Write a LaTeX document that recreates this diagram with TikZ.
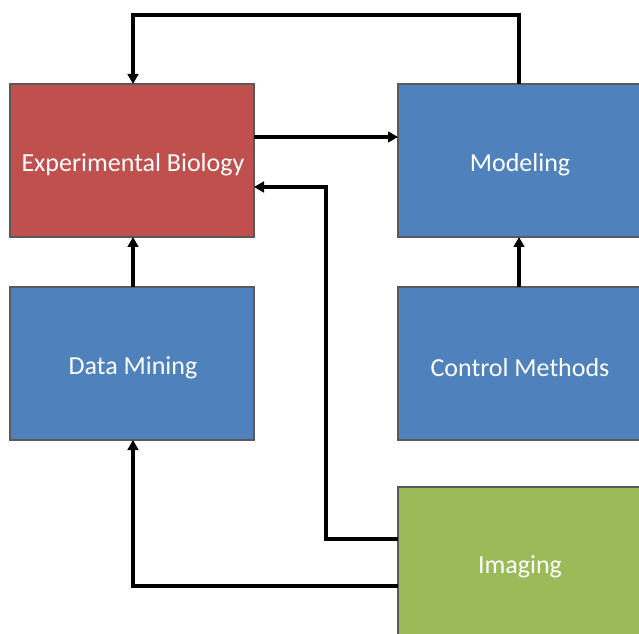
\documentclass[tikz,border=0pt]{standalone}
\usepackage{fontspec}
\setmainfont{Carlito}
\usetikzlibrary{arrows.meta}
\definecolor{boxred}{HTML}{C0504D}
\definecolor{boxblue}{HTML}{4F81BD}
\definecolor{boxgreen}{HTML}{9BBB59}
\definecolor{boxedge}{HTML}{595959}
\tikzset{
  blk/.style={draw=boxedge, line width=1.5pt, minimum width=183pt, minimum height=114.75pt,
    inner sep=0pt, outer sep=0pt, text=white, font=\fontsize{19.5}{23}\selectfont},
  lbl/.style={text=white, font=\fontsize{19.5}{23}\selectfont, inner sep=0pt},
  arr/.style={line width=2.4pt, -{Triangle[width=8pt,length=7.5pt]}}
}
\begin{document}
\begin{tikzpicture}[x=0.75pt,y=-0.75pt]
\useasboundingbox (0,0) rectangle (639,634);
\begin{scope}
\clip (0,0) rectangle (639,634);
\node[blk, fill=boxred] (exp) at (132,160.5) {};
\node[blk, fill=boxblue] (mod) at (520,160.5) {};
\node[blk, fill=boxblue] (dm) at (132,363.5) {};
\node[blk, fill=boxblue] (cm) at (520,363.5) {};
\node[blk, fill=boxgreen] (img) at (520,563) {};
\end{scope}
\node[lbl] (expt) at (133,165) {Experimental Biology};
\node[lbl] (modt) at (520,165) {Modeling};
\node[lbl] (dmt) at (133,368) {Data Mining};
\node[lbl] (cmt) at (520,368) {Control Methods};
\node[lbl] (imgt) at (520,567) {Imaging};
\coordinate (top) at (326,15);
\coordinate (ya) at (0,137);
\coordinate (yb) at (0,187);
\coordinate (yc) at (0,539);
\coordinate (yd) at (0,586);
\coordinate (vx) at (326,0);
\draw[arr] (mod.north -| 519,0) |- (top) -| (exp.north -| 133,0);
\draw[arr] (exp.east |- ya) -- (mod.west |- ya);
\draw[arr] (img.west |- yc) -| (vx |- yb) -- (exp.east |- yb);
\draw[arr] (img.west |- yd) -| (dm.south -| 133,0);
\draw[arr] (dm.north -| 133,0) -- (exp.south -| 133,0);
\draw[arr] (cm.north -| 519,0) -- (mod.south -| 519,0);
\end{tikzpicture}
\end{document}
